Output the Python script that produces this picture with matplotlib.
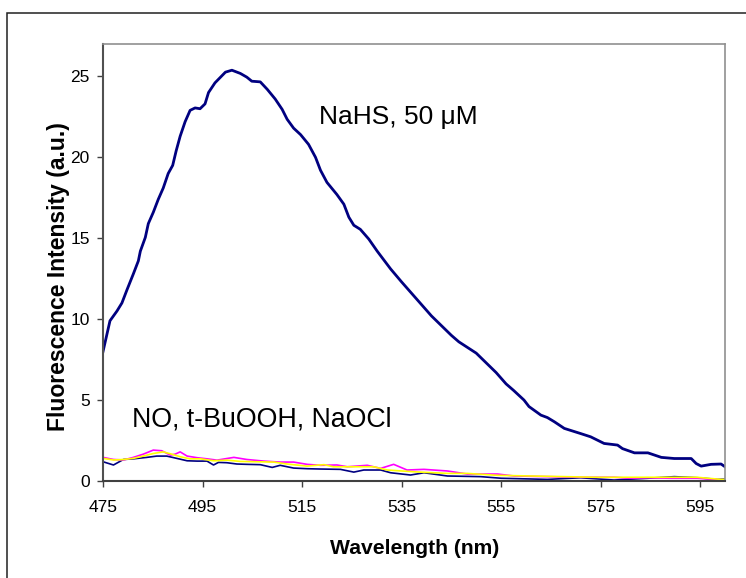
import matplotlib
matplotlib.use("Agg")
import matplotlib.pyplot as plt
from matplotlib.patches import Rectangle

plt.rcParams['font.family'] = ['Liberation Sans', 'DejaVu Sans']

# NaHS 50 uM response (wavelength nm, intensity a.u.)
nahs_wl = [475.0, 476.4, 477.8, 478.8, 479.8, 481.1, 482.1, 482.5, 483.5, 484.1,
           485.1, 486.1, 487.1, 488.1, 489.0, 489.7, 490.5, 491.5, 492.5, 493.5,
           494.5, 495.5, 496.2, 497.5, 499.6, 500.9, 502.6, 503.9, 504.9, 506.6,
           508.0, 509.6, 511.0, 512.0, 513.3, 514.7, 516.3, 517.7, 518.7, 520.0,
           522.0, 523.4, 524.4, 525.4, 526.7, 528.4, 530.1, 532.8, 535.0, 537.0,
           539.0, 541.0, 543.0, 545.0, 546.5, 548.0, 550.0, 552.0, 554.0, 556.0,
           557.5, 559.6, 560.6, 563.0, 564.3, 565.7, 567.7, 571.0, 573.0, 575.7,
           578.4, 579.4, 581.8, 584.5, 587.2, 589.8, 593.2, 594.2, 595.2, 597.2,
           599.2, 600.0]
nahs_int = [8.0, 9.9, 10.5, 11.0, 11.8, 12.8, 13.6, 14.2, 15.05, 15.9,
            16.6, 17.4, 18.1, 19.0, 19.5, 20.4, 21.3, 22.2, 22.9, 23.05,
            23.0, 23.3, 24.0, 24.6, 25.26, 25.38, 25.18, 24.95, 24.7, 24.66,
            24.2, 23.6, 22.96, 22.35, 21.8, 21.4, 20.8, 20.0, 19.2, 18.45,
            17.7, 17.1, 16.3, 15.8, 15.55, 14.95, 14.2, 13.1, 12.3, 11.6,
            10.9, 10.2, 9.6, 9.0, 8.6, 8.3, 7.9, 7.3, 6.7, 6.0,
            5.6, 5.0, 4.6, 4.07, 3.92, 3.66, 3.25, 2.93, 2.73, 2.32,
            2.22, 2.0, 1.74, 1.74, 1.46, 1.39, 1.39, 1.08, 0.92, 1.03,
            1.05, 0.88]

# NO
no_wl = [475.0, 477.1, 479.1, 481.1, 483.8, 485.8, 487.8, 489.8, 491.9, 493.9,
         495.9, 497.2, 498.2, 499.9, 501.9, 503.9, 506.6, 509.0, 510.6, 513.3,
         516.0, 518.7, 522.7, 525.4, 527.4, 530.8, 532.8, 536.8, 539.5, 544.2,
         550.9, 555.0, 564.3, 571.0, 577.7, 584.5, 589.8, 594.6, 598.5, 600.0]
no_int = [1.19, 0.99, 1.33, 1.37, 1.46, 1.54, 1.54, 1.4, 1.25, 1.23,
          1.23, 0.99, 1.15, 1.13, 1.05, 1.03, 1.01, 0.84, 0.97, 0.8,
          0.76, 0.74, 0.72, 0.55, 0.68, 0.68, 0.51, 0.37, 0.51, 0.31,
          0.27, 0.17, 0.1, 0.2, 0.06, 0.17, 0.27, 0.2, 0.1, 0.12]

# t-BuOOH
tbu_wl = [475.0, 477.1, 479.1, 481.1, 483.1, 485.1, 486.8, 488.5, 489.5, 490.5,
          491.9, 493.9, 495.9, 497.9, 501.3, 503.9, 507.3, 510.6, 513.3, 516.0,
          518.7, 522.0, 524.1, 528.1, 530.8, 533.4, 536.1, 539.5, 544.2, 548.2,
          554.3, 557.6, 564.3, 571.0, 577.7, 581.0, 584.5, 589.1, 594.4, 597.9,
          600.0]
tbu_int = [1.46, 1.33, 1.3, 1.46, 1.66, 1.91, 1.87, 1.6, 1.66, 1.8,
           1.54, 1.44, 1.37, 1.29, 1.46, 1.33, 1.23, 1.17, 1.17, 1.03,
           0.97, 0.99, 0.88, 0.97, 0.78, 1.03, 0.68, 0.72, 0.62, 0.43,
           0.43, 0.31, 0.27, 0.23, 0.23, 0.17, 0.2, 0.17, 0.17, 0.1,
           0.06]

# NaOCl
ocl_wl = [475.0, 477.1, 479.1, 481.1, 483.1, 485.1, 487.1, 488.8, 490.5, 492.5,
          494.6, 497.2, 499.9, 502.6, 505.9, 509.3, 512.0, 516.0, 519.4, 521.3,
          525.4, 529.4, 532.1, 537.5, 544.2, 548.2, 554.3, 561.0, 567.7, 574.4,
          581.0, 587.8, 594.4, 599.2, 600.0]
ocl_int = [1.4, 1.3, 1.33, 1.4, 1.54, 1.7, 1.8, 1.66, 1.5, 1.37,
           1.37, 1.25, 1.29, 1.21, 1.19, 1.17, 1.05, 0.92, 1.01, 0.88,
           0.88, 0.88, 0.68, 0.57, 0.47, 0.47, 0.35, 0.31, 0.27, 0.23,
           0.23, 0.23, 0.23, 0.1, 0.1]

xticks = [475, 495, 515, 535, 555, 575, 595]
yticks = [0, 5, 10, 15, 20, 25]

fig = plt.figure(figsize=(7.46, 5.78), dpi=100)
ax = fig.add_axes([0.1381, 0.1678, 0.8338, 0.7561])

ax.plot(no_wl, no_int, color='#000080', lw=1.2)
ax.plot(tbu_wl, tbu_int, color='#FF00FF', lw=1.2)
ax.plot(ocl_wl, ocl_int, color='#FFFF00', lw=1.2)
ax.plot(nahs_wl, nahs_int, color='#000080', lw=2.0)

ax.set_xlim(475, 600)
ax.set_ylim(0, 27)
ax.set_xticks(xticks)
ax.set_yticks(yticks)
ax.tick_params(direction='out', length=4, width=1, color='#404040',
               labelsize=12.5)
ax.tick_params(axis='x', pad=9.5)
ax.tick_params(axis='y', pad=5.5)

ax.spines['left'].set_color('#505050')
ax.spines['left'].set_linewidth(1.5)
ax.spines['bottom'].set_color('#404040')
ax.spines['bottom'].set_linewidth(1.5)
ax.spines['top'].set_color('#909090')
ax.spines['top'].set_linewidth(1.2)
ax.spines['right'].set_color('#909090')
ax.spines['right'].set_linewidth(1.2)

ax.set_xlabel('Wavelength (nm)', fontsize=15.2, fontweight='bold')
ax.set_ylabel('Fluorescence Intensity (a.u.)', fontsize=16.5, fontweight='bold')
ax.xaxis.set_label_coords(0.5016, -0.133)
ax.yaxis.set_label_coords(-0.053, 0.467)
ax.xaxis.label.set_va('top')

ax.text(518.5, 22.06, 'NaHS, 50 μM', fontsize=19, va='baseline')
ax.text(480.8, 3.39, 'NO, t-BuOOH, NaOCl', fontsize=19.3, va='baseline')

# outer chart border (only left/top visible in the crop)
fig.patches.append(Rectangle((7 / 746, -0.2), 1.5, (578 - 13) / 578 + 0.2,
                             transform=fig.transFigure, fill=False,
                             edgecolor='#202020', lw=1.1))

fig.savefig('out.png', dpi=100)
